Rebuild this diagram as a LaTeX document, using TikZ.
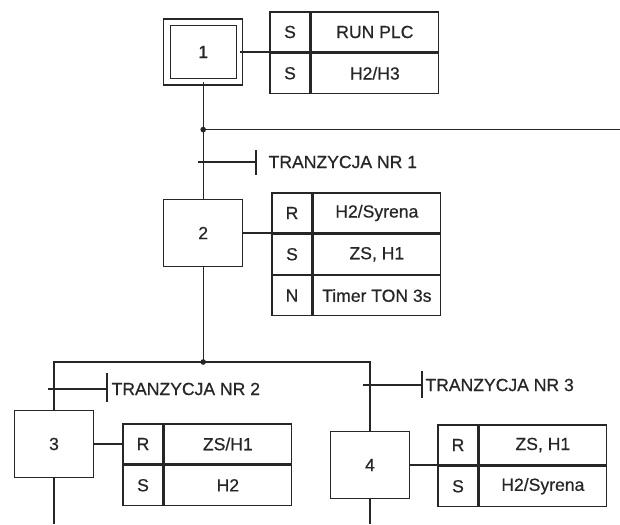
\documentclass[tikz,border=0pt]{standalone}
\usepackage{fontspec}
\setmainfont{Liberation Sans}[FakeBold=0.6]
\usetikzlibrary{positioning}

\begin{document}
\begin{tikzpicture}[line width=0.9pt,color=black!85,
  font=\fontsize{12.5}{14}\selectfont,
  krok/.style={draw,minimum width=1.97cm,minimum height=1.67cm,inner sep=0pt},
  krokp/.style={draw,double,double distance=3.6pt,minimum width=1.81cm,
    minimum height=1.49cm,inner sep=0pt},
  kw/.style={draw,minimum width=1cm,minimum height=1cm,inner sep=0pt},
  akcja/.style={draw,minimum width=3.18cm,minimum height=1cm,inner sep=0pt},
  tr/.style={anchor=west,inner sep=0pt},
  kropka/.style={circle,fill=black!85,inner sep=0pt,minimum size=4pt}]

\useasboundingbox (0,0) rectangle (15.5,-13.1);

%=== Krok 1 (poczatkowy) ===
\node[krokp] (s1) at (5.08,-1.3) {1};
\node[kw] (q1a) at (7.25,-0.8) {S};
\node[akcja,right=0pt of q1a] (a1a) {RUN PLC};
\node[kw,below=0pt of q1a] (q1b) {S};
\node[akcja,right=0pt of q1b] (a1b) {H2/H3};
\draw (s1.east) -- (s1.east -| q1a.west);

%=== Krok 2 ===
\node[krok] (s2) at (5.08,-5.825) {2};
\node[kw] (q2a) at (7.3,-5.325) {R};
\node[akcja,right=0pt of q2a] (a2a) {H2/Syrena};
\node[kw,below=0pt of q2a] (q2b) {S};
\node[akcja,right=0pt of q2b] (a2b) {ZS, H1};
\node[kw,below=0pt of q2b] (q2c) {N};
\node[akcja,right=0pt of q2c] (a2c) {Timer TON 3s};
\draw (s2.east) -- (s2.east -| q2a.west);

%=== Krok 3 ===
\node[krok] (s3) at (1.35,-11.1) {3};
\node[kw] (q3a) at (3.575,-11.1) {R};
\node[akcja,right=0pt of q3a] (a3a) {ZS/H1};
\node[kw,below=0pt of q3a] (q3b) {S};
\node[akcja,right=0pt of q3b] (a3b) {H2};
\draw (s3.east) -- (s3.east -| q3a.west);

%=== Krok 4 ===
\node[krok] (s4) at (9.25,-11.625) {4};
\node[kw] (q4a) at (11.45,-11.125) {R};
\node[akcja,right=0pt of q4a] (a4a) {ZS, H1};
\node[kw,below=0pt of q4a] (q4b) {S};
\node[akcja,right=0pt of q4b] (a4b) {H2/Syrena};
\draw (s4.east) -- (s4.east -| q4a.west);

%--- Polaczenia ---
\coordinate (j1) at (5.08,-3.24);
\coordinate (e1) at (15.5,-3.24);
\coordinate (j2) at (5.08,-9.05);
\coordinate (k3) at (1.35,-13.1);
\coordinate (k4) at (9.25,-13.1);

\draw (s1) -- (s2);
\draw (j1) -- (e1);
\node[kropka] (d1) at (j1) {};
\draw (s2) -- (j2);
\draw (s3.north) |- (j2) -| (s4.north);
\node[kropka] (d2) at (j2) {};
\draw (s3) -- (k3);
\draw (s4) -- (k4);

%--- Tranzycje ---
\coordinate (b1) at (6.4,-4.05);
\draw (b1 -| s2) ++(-0.13,0) -- (b1);
\draw ([yshift=0.3cm]b1) -- ([yshift=-0.325cm]b1);
\node[tr] (t1) at ([xshift=0.3cm]b1) {TRANZYCJA NR 1};

\coordinate (b2) at (2.675,-9.725);
\draw (b2 -| s3) ++(-0.15,0) -- (b2);
\draw ([yshift=0.4cm]b2) -- ([yshift=-0.325cm]b2);
\node[tr] (t2) at ([xshift=0.1cm]b2) {TRANZYCJA NR 2};

\coordinate (b3) at (10.55,-9.625);
\draw (b3 -| s4) ++(-0.175,0) -- (b3);
\draw ([yshift=0.35cm]b3) -- ([yshift=-0.325cm]b3);
\node[tr] (t3) at ([xshift=0.07cm]b3) {TRANZYCJA NR 3};

\end{tikzpicture}
\end{document}
